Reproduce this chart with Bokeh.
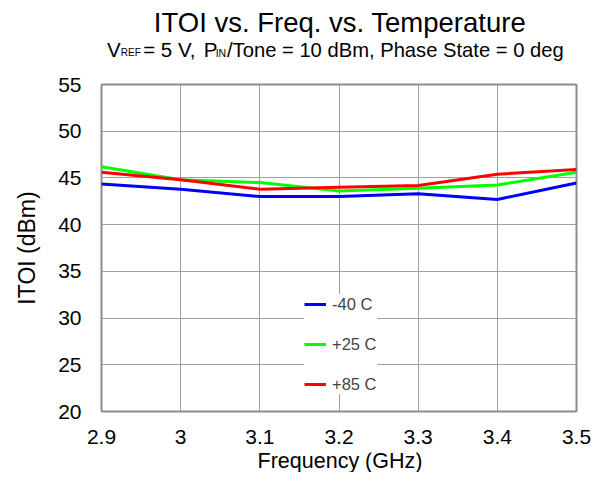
from bokeh.plotting import figure
from bokeh.models import Legend, LegendItem, Range1d, FixedTicker
from bokeh.layouts import column
from bokeh.core.properties import value
from bokeh.embed import file_html
from bokeh.resources import INLINE

freq = [2.9, 3.0, 3.1, 3.2, 3.3, 3.4, 3.5]
itoi_m40 = [44.35, 43.8, 43.0, 43.0, 43.3, 42.7, 44.45]
itoi_p25 = [46.2, 44.8, 44.5, 43.6, 43.9, 44.25, 45.6]
itoi_p85 = [45.6, 44.8, 43.8, 44.0, 44.2, 45.4, 45.9]
series_names = ["-40 C", "+25 C", "+85 C"]
series_colors = ["#0000ff", "#00ff00", "#ff0000"]
x_ticks = [2.9, 3.0, 3.1, 3.2, 3.3, 3.4, 3.5]
x_tick_labels = ["2.9", "3", "3.1", "3.2", "3.3", "3.4", "3.5"]
y_ticks = [20, 25, 30, 35, 40, 45, 50, 55]
title_text = "ITOI vs. Freq. vs. Temperature"
subtitle_parts = ["V", "REF", "= 5 V,", "P", "IN", "/Tone = 10 dBm, Phase State = 0 deg"]
x_label = "Frequency (GHz)"
y_label = "ITOI (dBm)"
FONT = "Liberation Sans"
W = 597
LEFT, RIGHT = 101, 21
HEAD_H, FOOT_H = 70, 20
FRAME_TOP, FRAME_BOTTOM = 84, 411
BASE_SHIFT = 8  # rendered baseline sits this far below the requested one


def text_panel(height):
    # frame coincides with the main plot's frame horizontally; data units = pixels
    f = figure(width=W, height=height, output_backend="svg", toolbar_location=None,
               title_location=None,
               x_range=Range1d(LEFT, W - RIGHT), y_range=Range1d(height, 0),
               x_axis_type=None, y_axis_type=None,
               min_border_left=LEFT, min_border_right=RIGHT, min_border_top=0, min_border_bottom=0)
    f.grid.visible = False
    f.outline_line_color = None
    return f


def put(f, x, y, t, size, align="left"):
    f.text(x=[x], y=[y - BASE_SHIFT], text=[t], text_font=value(FONT), text_font_size=value(f"{size}px"),
           text_align=align, text_baseline="alphabetic", text_color="black")


# header with title and subtitle (with subscripts)
head = text_panel(HEAD_H)
put(head, 339.5, 30, title_text, 27.5, "center")
sub_style = [(106.5, 20.5, 0), (120.3, 10, 3), (142.7, 20.5, 0), (203.3, 20.5, 0), (215.2, 10.5, 3),
             (226.5, 20.2, 0)]
for t, (x0, size, dy) in zip(subtitle_parts, sub_style):
    put(head, x0, 57 + dy, t, size)

# main plot
main_h = 472 - HEAD_H - FOOT_H
p = figure(width=W, height=main_h, output_backend="svg", toolbar_location=None,
           title_location=None,
           x_range=Range1d(2.9, 3.5), y_range=Range1d(20, 55),
           min_border_left=LEFT, min_border_right=RIGHT, min_border_top=FRAME_TOP - HEAD_H,
           min_border_bottom=HEAD_H + main_h - FRAME_BOTTOM)
p.xaxis.ticker = FixedTicker(ticks=x_ticks)
p.yaxis.ticker = FixedTicker(ticks=y_ticks)
p.xaxis.major_label_overrides = dict(zip(x_ticks, x_tick_labels))
for ax in (p.xaxis[0], p.yaxis[0]):
    ax.axis_line_color = None
    ax.major_tick_line_color = None
    ax.minor_tick_line_color = None
    ax.major_tick_in = 0
    ax.major_tick_out = 0
    ax.major_label_text_font = FONT
    ax.major_label_text_font_size = "21px"
    ax.major_label_text_color = "black"
    ax.axis_label_text_font = FONT
    ax.axis_label_text_font_style = "normal"
    ax.axis_label_text_color = "black"
p.yaxis.axis_label = y_label
p.yaxis.axis_label_text_font_size = "23px"
p.xaxis.major_label_standoff = 18
p.yaxis.major_label_standoff = 20
p.yaxis.axis_label_standoff = 15

p.grid.grid_line_color = "#a0a0a0"
p.grid.grid_line_width = 1
p.outline_line_color = "#8c8c8c"
p.outline_line_width = 2

items = []
for ys, name, col in zip([itoi_m40, itoi_p25, itoi_p85], series_names, series_colors):
    r = p.line(freq, ys, line_color=col, line_width=3)
    items.append(LegendItem(label=name, renderers=[r]))

legend = Legend(items=items, location=(203, 17), background_fill_color="white", background_fill_alpha=1.0,
                border_line_color=None, glyph_width=22, glyph_height=20, label_height=20,
                spacing=20, padding=12, margin=0, label_standoff=6,
                label_text_font=FONT, label_text_font_size="16.5px")
p.add_layout(legend, "center")

# footer with x-axis title
foot = text_panel(FOOT_H)
put(foot, 339.5, 16, x_label, 21.5, "center")

layout = column(head, p, foot, spacing=0)
open("out.html", "w").write(file_html(layout, INLINE))
